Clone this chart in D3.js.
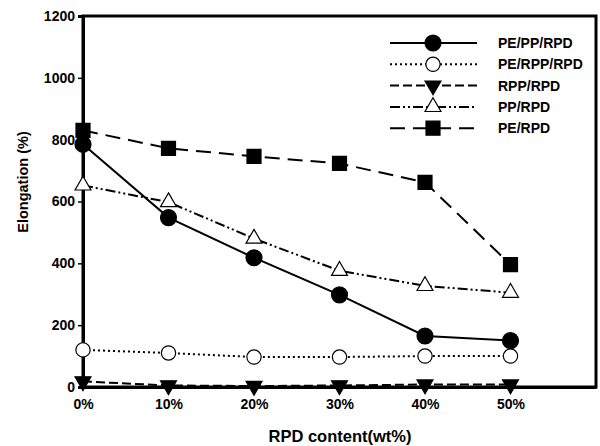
<!DOCTYPE html>
<html>
<head>
<meta charset="utf-8">
<script src="https://cdn.jsdelivr.net/npm/d3@7"></script>
<style>
  body { margin: 0; background: #fff; }
  svg { font-family: "Liberation Sans", Arial, sans-serif; font-weight: bold; }
</style>
</head>
<body>
<div id="chart"></div>
<script>
// RPD content (wt%)
const contents = [0, 10, 20, 30, 40, 50];
const xTickLabels = ["0%", "10%", "20%", "30%", "40%", "50%"];
const yTicks = [0, 200, 400, 600, 800, 1000, 1200];

const pePpRpd = [785, 548, 418, 298, 165, 150];
const peRppRpd = [120, 110, 97, 97, 100, 100];
const rppRpd = [18, 5, 3, 5, 8, 8];
const ppRpd = [652, 598, 480, 376, 327, 305];
const peRpd = [830, 772, 746, 723, 662, 396];

const seriesNames = ["PE/PP/RPD", "PE/RPP/RPD", "RPP/RPD", "PP/RPD", "PE/RPD"];

const width = 600, height = 446;
const x = d3.scaleLinear().domain([0, 60]).range([83, 596]);
const y = d3.scaleLinear().domain([0, 1200]).range([387, 16]);

const svg = d3.select("#chart").append("svg")
    .attr("width", width)
    .attr("height", height);

const styles = [
    { values: pePpRpd, dash: null, sym: d3.symbolCircle, size: 200, fill: "#000", rot: 0 },
    { values: peRppRpd, dash: "2,3", sym: d3.symbolCircle, size: 160, fill: "#fff", rot: 0 },
    { values: rppRpd, dash: "9,4", sym: d3.symbolTriangle, size: 110, fill: "#000", rot: 180 },
    { values: ppRpd, dash: "10,3,2,3,2,3", sym: d3.symbolTriangle, size: 110, fill: "#fff", rot: 0 },
    { values: peRpd, dash: "15,8", sym: d3.symbolSquare, size: 196, fill: "#000", rot: 0 }
];

// frame
svg.append("rect")
    .attr("x", x(0)).attr("y", y(1200))
    .attr("width", x(60) - x(0)).attr("height", y(0) - y(1200))
    .attr("fill", "none").attr("stroke", "#000").attr("stroke-width", 3);

// y axis
const yAxis = d3.axisLeft(y).tickValues(yTicks).tickFormat(d3.format("d"))
    .tickSize(5).tickPadding(3);
const gy = svg.append("g").attr("transform", `translate(${x(0)},0)`).call(yAxis);
gy.select(".domain").attr("stroke-width", 3);
gy.selectAll(".tick line").attr("stroke-width", 1.5);
gy.selectAll("text").attr("font-size", 14).attr("font-weight", "bold")
    .attr("font-family", "Liberation Sans, Arial, sans-serif");

// x axis
const xAxis = d3.axisBottom(x).tickValues(contents).tickFormat((d, i) => xTickLabels[i])
    .tickSize(0).tickPadding(12);
const gx = svg.append("g").attr("transform", `translate(0,${y(0)})`).call(xAxis);
gx.select(".domain").attr("stroke-width", 3);
gx.selectAll("text").attr("font-size", 14).attr("font-weight", "bold")
    .attr("font-family", "Liberation Sans, Arial, sans-serif");

// axis titles
svg.append("text")
    .attr("x", 340).attr("y", 442)
    .attr("text-anchor", "middle")
    .attr("font-size", 16.5)
    .text("RPD content(wt%)");

svg.append("text")
    .attr("transform", `translate(28,182) rotate(-90)`)
    .attr("text-anchor", "middle")
    .attr("font-size", 14.5)
    .text("Elongation (%)");

const line = d3.line().x((d, i) => x(contents[i])).y(d => y(d));

styles.forEach(s => {
    svg.append("path")
        .datum(s.values)
        .attr("d", line)
        .attr("fill", "none")
        .attr("stroke", "#000")
        .attr("stroke-width", 2)
        .attr("stroke-dasharray", s.dash);
});

styles.forEach(s => {
    const sym = d3.symbol().type(s.sym).size(s.size);
    svg.append("g").selectAll("path")
        .data(s.values)
        .enter()
        .append("path")
        .attr("d", sym)
        .attr("transform", (d, i) => `translate(${x(contents[i])},${y(d)}) rotate(${s.rot})`)
        .attr("fill", s.fill)
        .attr("stroke", "#000")
        .attr("stroke-width", 1.2);
});

// legend
const legend = svg.append("g").attr("transform", "translate(390,43)");
styles.forEach((s, i) => {
    const row = legend.append("g").attr("transform", `translate(0,${i * 21.3})`);
    row.append("line")
        .attr("x1", 0).attr("x2", 87)
        .attr("stroke", "#000").attr("stroke-width", 2)
        .attr("stroke-dasharray", s.dash);
    row.append("path")
        .attr("d", d3.symbol().type(s.sym).size(s.size))
        .attr("transform", `translate(43,0) rotate(${s.rot})`)
        .attr("fill", s.fill)
        .attr("stroke", "#000")
        .attr("stroke-width", 1.2);
    row.append("text")
        .attr("x", 108).attr("y", 5)
        .attr("font-size", 14)
        .text(seriesNames[i]);
});
</script>
</body>
</html>
